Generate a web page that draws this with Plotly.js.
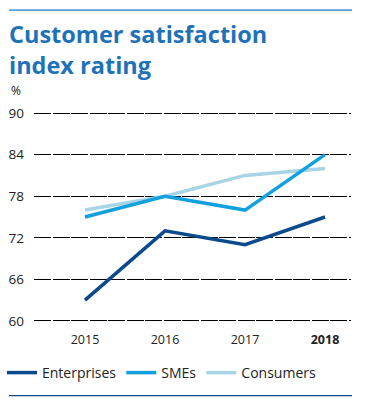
<!DOCTYPE html>
<html>
<head>
<meta charset="utf-8">
<script src="https://cdn.plot.ly/plotly-3.0.1.min.js"></script>
<style>html,body{margin:0;padding:0;background:#fff;}#chart{width:367px;height:409px;}</style>
</head>
<body>
<div id="chart"></div>
<script>
const years = [2015, 2016, 2017, 2018];
const yearLabels = ['2015', '2016', '2017', '<b>2018</b>'];
const enterprises = [63, 73, 71, 75];
const smes = [75, 78, 76, 84];
const consumers = [76, 78, 81, 82];
const yTicks = [60, 66, 72, 78, 84, 90];

const FONT = 'Open Sans, sans-serif';
const traces = [
  {x: years, y: consumers, name: 'Consumers', mode: 'lines', line: {color: '#A9D4E5', width: 3.5}, legendrank: 3},
  {x: years, y: smes, name: 'SMEs', mode: 'lines', line: {color: '#13A0DE', width: 3.5}, legendrank: 2},
  {x: years, y: enterprises, name: 'Enterprises', mode: 'lines', line: {color: '#0D4A8C', width: 3.5}, legendrank: 1}
];

const layout = {
  width: 367, height: 409,
  margin: {l: 34, r: 16, t: 112, b: 87},
  paper_bgcolor: '#fff', plot_bgcolor: '#fff',
  font: {family: FONT, size: 13, color: '#222'},
  title: {
    text: 'Customer satisfaction<br>index rating',
    font: {family: FONT, size: 23.5, color: '#1F72B8', weight: 'bold'},
    x: 9/367, xanchor: 'left', xref: 'container',
    y: 1 - 43/409, yanchor: 'top', yref: 'container'
  },
  xaxis: {
    range: [2014.3625, 2018.325],
    tickvals: years, ticktext: yearLabels,
    showgrid: false, zeroline: false, showline: false,
    ticks: '', ticklabelstandoff: 8,
    tickfont: {family: FONT, size: 12.5, color: '#222'},
    fixedrange: true
  },
  yaxis: {
    range: [59.85, 90.15], tickvals: yTicks,
    showgrid: true, gridcolor: '#000', gridwidth: 1, griddash: '17px,1.5px',
    zeroline: false, showline: false, ticks: '', ticklabelstandoff: 9,
    tickfont: {family: FONT, size: 13.5, color: '#222'},
    fixedrange: true
  },
  showlegend: true,
  legend: {
    orientation: 'h', xref: 'container', yref: 'container',
    x: 2/367, xanchor: 'left', y: 1 - 357/409, yanchor: 'top',
    font: {family: FONT, size: 14, color: '#222'},
    traceorder: 'normal', itemwidth: 30, bgcolor: 'rgba(0,0,0,0)'
  },
  shapes: [
    {type: 'line', xref: 'paper', yref: 'paper', x0: -25/317, x1: 318/317, y0: (321-12)/208, y1: (321-12)/208, line: {color: '#1A75C5', width: 1.2}},
    {type: 'line', xref: 'paper', yref: 'paper', x0: -25/317, x1: 318/317, y0: (321-394)/208, y1: (321-394)/208, line: {color: '#0D4A8C', width: 1.2}}
  ],
  annotations: [
    {text: '%', xref: 'paper', yref: 'paper', x: -25/317, xanchor: 'left', y: (321-92)/208, yanchor: 'middle', showarrow: false, font: {family: FONT, size: 12, color: '#222'}}
  ]
};

Plotly.newPlot('chart', traces, layout, {displayModeBar: false, staticPlot: true});
</script>
</body>
</html>
